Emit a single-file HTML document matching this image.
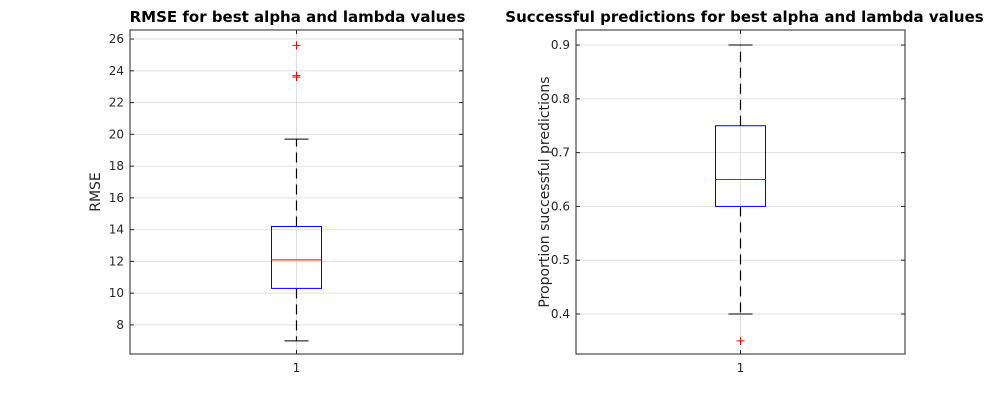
<!DOCTYPE html>
<html><head><meta charset="utf-8"><style>
html,body{margin:0;padding:0;background:#fff;width:1000px;height:400px;overflow:hidden}
text{font-family:"DejaVu Sans","Liberation Sans",sans-serif}
</style></head><body>
<svg id="chart" width="1000" height="400" xmlns="http://www.w3.org/2000/svg"></svg>
<script>
const leftTicks=[8,10,12,14,16,18,20,22,24,26];
const leftStats=[7.0,10.3,12.1,14.2,19.7]; // min,q1,median,q3,max
const leftOutliers=[25.6,23.7,23.6];
const rightTicks=[0.4,0.5,0.6,0.7,0.8,0.9];
const rightStats=[0.4,0.6,0.65,0.75,0.9];
const rightOutliers=[0.35];
const categories=["1"];

const svg=document.getElementById('chart');
const NS="http://www.w3.org/2000/svg";
function mk(tag,attrs,parent,name){const e=document.createElementNS(NS,tag);for(const k in attrs)e.setAttribute(k,attrs[k]);


(parent||svg).appendChild(e);return e;}

function panel(o){
  const g=mk('g',{},svg,o.name);
  const {x0,x1,y0,y1,ymin,ymax}=o;
  const Y=v=>y1-(v-ymin)/(ymax-ymin)*(y1-y0);
  const cx=(x0+x1)/2;
  mk('rect',{x:x0,y:y0,width:x1-x0,height:y1-y0,fill:'#fff',stroke:'none'},g,'plot-area');
  o.ticks.forEach(t=>{const y=Y(t);
    mk('line',{x1:x0,x2:x1,y1:y,y2:y,stroke:'#e0e0e0','stroke-width':1},g,'grid-line');
    mk('line',{x1:x0,x2:x0+4,y1:y,y2:y,stroke:'#262626'},g,'y-tick');
    mk('line',{x1:x1-4,x2:x1,y1:y,y2:y,stroke:'#262626'},g,'y-tick');
    const tx=mk('text',{x:x0-6,y:y+4,'font-size':12,'text-anchor':'end',fill:'#262626'},g,'y-tick-label');tx.textContent=o.fmt(t);
  });
  mk('line',{x1:cx,x2:cx,y1:y0,y2:y1,stroke:'#e0e0e0'},g,'grid-line-x');
  mk('line',{x1:cx,x2:cx,y1:y1,y2:y1-4,stroke:'#262626'},g,'x-tick');
  mk('line',{x1:cx,x2:cx,y1:y0,y2:y0+4,stroke:'#262626'},g,'x-tick');
  const xl=mk('text',{x:cx,y:y1+18,'font-size':12,'text-anchor':'middle',fill:'#262626'},g,'x-tick-label');xl.textContent=categories[0];
  const s=o.stats,hw=25,cw=12;
  mk('line',{x1:cx,x2:cx,y1:Y(s[3]),y2:Y(s[4]),stroke:'#000','stroke-dasharray':'10,6','stroke-width':1.2},g,'upper-whisker');
  mk('line',{x1:cx,x2:cx,y1:Y(s[1]),y2:Y(s[0]),stroke:'#000','stroke-dasharray':'10,6','stroke-width':1.2},g,'lower-whisker');
  mk('line',{x1:cx-cw,x2:cx+cw,y1:Y(s[4]),y2:Y(s[4]),stroke:'#000'},g,'upper-whisker-cap');
  mk('line',{x1:cx-cw,x2:cx+cw,y1:Y(s[0]),y2:Y(s[0]),stroke:'#000'},g,'lower-whisker-cap');
  mk('rect',{x:cx-hw,y:Y(s[3]),width:2*hw,height:Y(s[1])-Y(s[3]),fill:'none',stroke:'#0000ff'},g,'box');
  mk('line',{x1:cx-hw,x2:cx+hw,y1:Y(s[2]),y2:Y(s[2]),stroke:'#ff0000'},g,'median-line');
  o.outliers.forEach(v=>{const y=Y(v);
    mk('path',{d:`M${cx-4},${y}H${cx+4}M${cx},${y-4}V${y+4}`,stroke:'#ff0000',fill:'none'},g,'outlier');});
  mk('rect',{x:x0,y:y0,width:x1-x0,height:y1-y0,fill:'none',stroke:'#262626'},g,'axes-box');
  const t=mk('text',{x:cx+o.tdx,y:y0-8,'font-size':15,'font-weight':'bold','text-anchor':'middle',fill:'#000'},g,'chart-title');t.textContent=o.title;
  const yl=mk('text',{x:0,y:0,'font-size':14,'text-anchor':'middle',fill:'#262626',transform:`translate(${o.ylx},${(y0+y1)/2}) rotate(-90)`},g,'y-axis-title');yl.textContent=o.ylabel;
}
panel({name:'rmse-panel',x0:130,x1:463,y0:30,y1:354,ymin:6.17,ymax:26.57,ticks:leftTicks,stats:leftStats,outliers:leftOutliers,fmt:v=>String(v),title:'RMSE for best alpha and lambda values',ylabel:'RMSE',ylx:100,tdx:1});
panel({name:'success-panel',x0:576,x1:905,y0:30,y1:354,ymin:0.3256,ymax:0.928,ticks:rightTicks,stats:rightStats,outliers:rightOutliers,fmt:v=>v.toFixed(1),title:'Successful predictions for best alpha and lambda values',ylabel:'Proportion successful predictions',ylx:549,tdx:4});
</script>
</body></html>
